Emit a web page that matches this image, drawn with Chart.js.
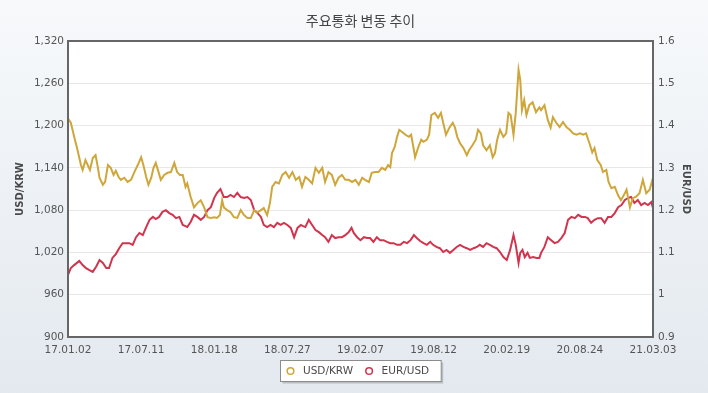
<!DOCTYPE html>
<html><head><meta charset="utf-8">
<script src="https://cdn.jsdelivr.net/npm/chart.js@4/dist/chart.umd.min.js"></script>
<style>html,body{margin:0;padding:0;background:#eef2f6}#wrap{width:708px;height:393px}</style>
</head><body><div id="wrap"><canvas id="c" width="708" height="393"></canvas></div>
<script>
const chartTitle = '주요통화 변동 추이';
const seriesNames = ['USD/KRW', 'EUR/USD'];
const xTickLabels = ['17.01.02','17.07.11','18.01.18','18.07.27','19.02.07','19.08.12','20.02.19','20.08.24','21.03.03'];
const leftTicks = [900, 960, 1020, 1080, 1140, 1200, 1260, 1320];
const rightTicks = [0.9, 1, 1.1, 1.2, 1.3, 1.4, 1.5, 1.6];

// trading-day index (0 = 17.01.02, 1040 = 21.03.03)
const krwDays = [0,5,11,17,23,26,31,35,39,44,49,53,56,62,66,71,76,81,85,90,94,100,106,112,118,124,130,134,139,143,148,152,156,161,165,171,177,183,189,194,199,204,209,212,218,224,230,236,242,248,254,260,265,270,274,277,283,289,295,301,307,313,319,325,331,337,343,348,354,359,363,369,375,381,387,393,399,405,411,416,422,428,434,440,446,452,457,463,469,475,481,487,493,499,505,511,517,523,528,535,540,546,552,558,564,569,573,576,581,585,589,594,600,606,610,615,617,623,628,632,638,642,646,652,658,663,667,672,678,684,688,692,697,703,709,713,719,725,729,734,738,744,750,755,759,763,768,774,779,783,787,792,796,801,804,807,811,815,820,826,832,838,841,847,853,858,862,868,874,880,886,892,898,904,910,916,921,927,932,936,941,947,951,957,961,966,972,978,983,988,993,999,1004,1010,1016,1022,1028,1034,1040];
const krwRates = [1210,1204,1184,1165,1144,1137,1151,1144,1137,1154,1158,1141,1126,1116,1120,1144,1140,1130,1136,1127,1123,1126,1120,1123,1134,1144,1155,1144,1127,1116,1126,1140,1147,1134,1123,1130,1133,1134,1147,1134,1130,1130,1113,1118,1099,1084,1090,1094,1084,1070,1069,1070,1069,1073,1094,1084,1080,1077,1070,1069,1080,1073,1069,1069,1080,1077,1080,1083,1073,1090,1113,1120,1118,1130,1134,1126,1134,1123,1127,1113,1127,1123,1118,1140,1133,1140,1120,1134,1130,1116,1126,1130,1123,1123,1120,1123,1116,1126,1123,1120,1133,1134,1134,1140,1137,1144,1141,1161,1170,1184,1194,1191,1187,1184,1187,1165,1155,1170,1180,1177,1180,1187,1215,1218,1211,1218,1204,1187,1197,1204,1197,1184,1175,1168,1158,1165,1172,1180,1194,1189,1172,1165,1172,1155,1161,1180,1194,1184,1189,1218,1215,1187,1218,1279,1265,1222,1236,1215,1229,1233,1219,1226,1222,1229,1208,1197,1212,1204,1198,1205,1198,1194,1189,1187,1189,1187,1189,1175,1162,1168,1151,1144,1134,1137,1120,1111,1113,1101,1094,1101,1109,1084,1097,1099,1104,1123,1104,1109,1126];

const eurDays = [0,5,11,20,26,32,38,44,50,56,62,68,73,79,85,91,97,103,109,115,121,127,133,139,145,151,156,162,168,174,180,186,192,198,204,209,212,218,224,230,236,242,248,254,260,265,271,277,283,289,295,301,307,313,319,325,331,337,343,348,354,360,366,372,378,384,390,396,402,408,414,417,422,428,434,440,446,452,457,463,469,475,481,487,493,499,504,508,514,520,526,532,537,543,549,555,561,567,573,579,585,591,597,603,609,615,620,626,632,638,644,649,655,661,667,673,679,685,691,697,703,709,715,721,727,732,738,744,750,756,762,768,774,780,786,792,796,801,804,808,812,817,821,827,833,838,841,847,853,859,865,871,877,883,889,895,901,907,913,919,924,930,936,942,948,954,960,966,972,978,984,990,996,1001,1007,1013,1019,1025,1031,1037,1040];
const eurRates = [1.047,1.063,1.070,1.080,1.070,1.063,1.058,1.054,1.066,1.082,1.075,1.063,1.063,1.087,1.096,1.110,1.122,1.122,1.122,1.118,1.136,1.146,1.141,1.160,1.177,1.184,1.179,1.184,1.196,1.200,1.193,1.189,1.181,1.184,1.165,1.162,1.160,1.172,1.189,1.184,1.177,1.184,1.200,1.207,1.229,1.241,1.250,1.231,1.231,1.236,1.231,1.241,1.231,1.229,1.231,1.224,1.200,1.193,1.184,1.165,1.160,1.165,1.160,1.170,1.165,1.170,1.165,1.158,1.136,1.158,1.165,1.163,1.160,1.177,1.165,1.153,1.148,1.141,1.136,1.125,1.141,1.134,1.136,1.136,1.141,1.148,1.158,1.146,1.136,1.129,1.136,1.134,1.134,1.125,1.136,1.129,1.129,1.125,1.122,1.122,1.118,1.118,1.125,1.122,1.129,1.141,1.134,1.127,1.122,1.118,1.125,1.118,1.113,1.110,1.101,1.106,1.099,1.106,1.113,1.118,1.113,1.110,1.106,1.110,1.113,1.118,1.113,1.122,1.118,1.113,1.110,1.101,1.089,1.082,1.106,1.141,1.118,1.075,1.099,1.106,1.089,1.099,1.087,1.089,1.087,1.087,1.099,1.113,1.136,1.129,1.122,1.125,1.134,1.146,1.177,1.184,1.181,1.189,1.184,1.184,1.181,1.170,1.177,1.181,1.181,1.170,1.184,1.184,1.193,1.207,1.212,1.224,1.229,1.231,1.217,1.224,1.212,1.217,1.212,1.219,1.205];

const DAY_MAX = 1040;
const tickStep = DAY_MAX / (xTickLabels.length - 1);
const colors = ['#cfa63a', '#d2344e'];
const tickFont = {family: "'DejaVu Sans', Verdana, sans-serif", size: 10.5};

const krwData = krwDays.map((d, i) => ({x: d, y: krwRates[i]}));
const eurData = eurDays.map((d, i) => ({x: d, y: eurRates[i]}));

const bgPlugin = {
  id: 'bg',
  beforeDraw(chart) {
    const {ctx, width, height, chartArea: a} = chart;
    ctx.save();
    const g = ctx.createLinearGradient(0, 0, 0, height);
    g.addColorStop(0, '#f7f9fb');
    g.addColorStop(1, '#e3e9ef');
    ctx.fillStyle = g;
    ctx.fillRect(0, 0, width, height);
    ctx.fillStyle = '#ffffff';
    ctx.fillRect(a.left, a.top, a.right - a.left, a.bottom - a.top);
    ctx.restore();
  },
  afterDraw(chart) {
    const {ctx, chartArea: a} = chart;
    ctx.save();
    ctx.strokeStyle = '#666666';
    ctx.lineWidth = 2;
    ctx.strokeRect(a.left, a.top, a.right - a.left, a.bottom - a.top);
    // legend box
    ctx.font = "10.5px 'DejaVu Sans', Verdana, sans-serif";
    ctx.textBaseline = 'middle';
    const items = chart.data.datasets.map(ds => ({label: ds.label, color: ds.borderColor, w: ctx.measureText(ds.label).width}));
    const padL = 10, sym = 12.5, gap = 16, padR = 12;
    let total = padL + padR;
    items.forEach((it, i) => { total += sym + it.w + (i < items.length - 1 ? gap : 0); });
    const cx = (a.left + a.right) / 2;
    const bx = Math.round(cx - total / 2) + 0.5, by = 360.5, bh = 21;
    ctx.fillStyle = '#b9bec4';
    ctx.fillRect(bx + 2, by + 2, total, bh);
    ctx.fillStyle = '#ffffff';
    ctx.fillRect(bx, by, total, bh);
    ctx.strokeStyle = '#8c8c8c';
    ctx.lineWidth = 1;
    ctx.strokeRect(bx, by, total, bh);
    let x = bx + padL;
    const my = by + bh / 2;
    items.forEach(it => {
      ctx.beginPath();
      ctx.arc(x, my, 3.3, 0, Math.PI * 2);
      ctx.fillStyle = '#fff';
      ctx.fill();
      ctx.strokeStyle = it.color;
      ctx.lineWidth = 1.5;
      ctx.stroke();
      ctx.fillStyle = '#4a4a4a';
      ctx.fillText(it.label, x + sym, my + 0.5);
      x += sym + it.w + gap;
    });
    ctx.restore();
  }
};

new Chart(document.getElementById('c'), {
  type: 'line',
  data: {
    datasets: [
      {label: seriesNames[0], data: krwData, yAxisID: 'yL', borderColor: colors[0], backgroundColor: colors[0], borderWidth: 2, pointRadius: 0, tension: 0},
      {label: seriesNames[1], data: eurData, yAxisID: 'yR', borderColor: colors[1], backgroundColor: colors[1], borderWidth: 2, pointRadius: 0, tension: 0}
    ]
  },
  options: {
    responsive: false,
    animation: false,
    devicePixelRatio: 1,
    layout: {padding: 0},
    plugins: {
      legend: {display: false},
      tooltip: {enabled: false},
      title: {display: true, text: chartTitle, fullSize: false, color: '#444', font: {family: "'Noto Sans CJK KR', sans-serif", size: 14, weight: 'normal'}, padding: {top: 12.6, bottom: 11.6}}
    },
    scales: {
      x: {
        type: 'linear', min: 0, max: DAY_MAX,
        afterBuildTicks(s) { s.ticks = xTickLabels.map((_, i) => ({value: i * tickStep})); },
        afterFit(s) { s.height = 56; },
        grid: {display: false, drawTicks: false},
        border: {display: false},
        ticks: {padding: 7, color: '#555', font: tickFont, maxRotation: 0, autoSkip: false,
          callback: v => xTickLabels[Math.round(v / tickStep)]}
      },
      yL: {
        position: 'left', min: 900, max: 1320,
        afterBuildTicks(s) { s.ticks = leftTicks.map(v => ({value: v})); },
        afterFit(s) { s.width = 68; },
        grid: {color: '#e8e8e8', drawTicks: false},
        border: {display: false},
        ticks: {padding: 4, color: '#555', font: tickFont, callback: v => v.toLocaleString('en-US')},
        title: {display: true, text: seriesNames[0], color: '#4a4a4a', font: {family: "'DejaVu Sans', sans-serif", size: 10, weight: 'bold'}, padding: {top: 14, bottom: 0}}
      },
      yR: {
        position: 'right', min: 0.9, max: 1.6,
        afterBuildTicks(s) { s.ticks = rightTicks.map(v => ({value: v})); },
        afterFit(s) { s.width = 55; },
        grid: {display: false, drawTicks: false},
        border: {display: false},
        ticks: {padding: 5, color: '#555', font: tickFont, callback: v => String(+v.toFixed(2))},
        title: {display: true, text: seriesNames[1], color: '#4a4a4a', font: {family: "'DejaVu Sans', sans-serif", size: 10, weight: 'bold'}, padding: {top: 16, bottom: 0}}
      }
    }
  },
  plugins: [bgPlugin]
});
</script>
</body></html>
